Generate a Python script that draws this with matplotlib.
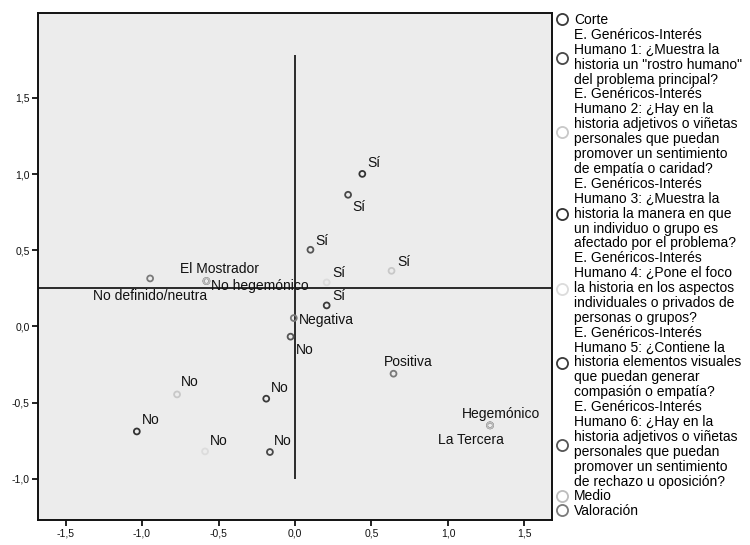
import matplotlib
matplotlib.use("Agg")
import matplotlib.pyplot as plt
from matplotlib.lines import Line2D

plt.rcParams['font.family'] = ['Liberation Sans', 'DejaVu Sans']

# series (legend order)
nombres = [
    'Corte',
    'E. Genéricos-Interés\nHumano 1: ¿Muestra la\nhistoria un "rostro humano"\ndel problema principal?',
    'E. Genéricos-Interés\nHumano 2: ¿Hay en la\nhistoria adjetivos o viñetas\npersonales que puedan\npromover un sentimiento\nde empatía o caridad?',
    'E. Genéricos-Interés\nHumano 3: ¿Muestra la\nhistoria la manera en que\nun individuo o grupo es\nafectado por el problema?',
    'E. Genéricos-Interés\nHumano 4: ¿Pone el foco\nla historia en los aspectos\nindividuales o privados de\npersonas o grupos?',
    'E. Genéricos-Interés\nHumano 5: ¿Contiene la\nhistoria elementos visuales\nque puedan generar\ncompasión o empatía?',
    'E. Genéricos-Interés\nHumano 6: ¿Hay en la\nhistoria adjetivos o viñetas\npersonales que puedan\npromover un sentimiento\nde rechazo u oposición?',
    'Medio',
    'Valoración',
]

corte_x = [1.275, -0.579]
corte_y = [-0.649, 0.298]
corte_lab = ['Hegemónico', 'No hegemónico']

h1_x = [0.347, -0.164]
h1_y = [0.864, -0.824]
h2_x = [0.631, -0.771]
h2_y = [0.365, -0.446]
h3_x = [0.440, -1.034]
h3_y = [1.001, -0.689]
h4_x = [0.207, -0.588]
h4_y = [0.289, -0.820]
h5_x = [0.207, -0.188]
h5_y = [0.138, -0.474]
h6_x = [0.101, -0.029]
h6_y = [0.503, -0.067]
si_no = ['Sí', 'No']

medio_x = [-0.579, 1.275]
medio_y = [0.298, -0.649]
medio_lab = ['El Mostrador', 'La Tercera']

valor_x = [-0.008, 0.644, -0.947]
valor_y = [0.055, -0.310, 0.315]
valor_lab = ['Negativa', 'Positiva', 'No definido/neutra']

x_ticks = [-1.5, -1.0, -0.5, 0.0, 0.5, 1.0, 1.5]
x_tick_lab = ['-1,5', '-1,0', '-0,5', '0,0', '0,5', '1,0', '1,5']
y_ticks = [-1.0, -0.5, 0.0, 0.5, 1.0, 1.5]
y_tick_lab = ['-1,0', '-0,5', '0,0', '0,5', '1,0', '1,5']

series = [
    (corte_x, corte_y, corte_lab),
    (h1_x, h1_y, si_no),
    (h2_x, h2_y, si_no),
    (h3_x, h3_y, si_no),
    (h4_x, h4_y, si_no),
    (h5_x, h5_y, si_no),
    (h6_x, h6_y, si_no),
    (medio_x, medio_y, medio_lab),
    (valor_x, valor_y, valor_lab),
]

# styling
colores = ['#3a3a3a', '#484848', '#c8c8c8', '#333333', '#dcdcdc',
           '#3a3a3a', '#555555', '#bdbdbd', '#7a7a7a']
# label offsets in pixels (dx, dy up, ha)
offs = [
    [(-27.7, 7.7, 'left'), (5, -8.7, 'left')],
    [(4, -16.5, 'left'), (4, 6.7, 'left')],
    [(6, 5, 'left'), (4, 8, 'left')],
    [(5, 7, 'left'), (4.7, 7.7, 'left')],
    [(6, 5.7, 'left'), (4.7, 6.7, 'left')],
    [(6, 5.7, 'left'), (5, 6.7, 'left')],
    [(5, 5, 'left'), (5, -17, 'left')],
    [(-26.7, 8, 'left'), (-52, -18.3, 'left')],
    [(5, -6, 'left'), (-10, 8, 'left'), (0, -21.3, 'center')],
]

fig = plt.figure(figsize=(7.5, 5.45), dpi=100)
ax = fig.add_axes([38 / 750, 1 - 520 / 545, 514 / 750, 507.5 / 545])
ax.set_facecolor('#ececec')

ax.axhline(0.25, color='#2a2a2a', lw=1.4, zorder=1)
ax.vlines(0, -1.0, 1.78, color='#2a2a2a', lw=1.4, zorder=1)

px2pt = 0.72
for (xs, ys, labs), c, off in zip(series, colores, offs):
    ax.scatter(xs, ys, s=18, facecolors='none', edgecolors=c, linewidths=1.3, zorder=3)
    for x, y, t, (dx, dy, ha) in zip(xs, ys, labs, off):
        ax.annotate(t, (x, y), xytext=(dx * px2pt, dy * px2pt), textcoords='offset points',
                    ha=ha, va='baseline', fontsize=10, color='#111111', zorder=4)

ax.set_xlim(-1.68, 1.68)
ax.set_ylim(-1.27, 2.06)
ax.set_xticks(x_ticks)
ax.set_xticklabels(x_tick_lab)
ax.set_yticks(y_ticks)
ax.set_yticklabels(y_tick_lab)
ax.tick_params(direction='out', length=4, width=1.3, labelsize=7.5, colors='#111111', pad=2)
for sp in ax.spines.values():
    sp.set_linewidth(1.4)
    sp.set_color('#111111')

handles = [Line2D([], [], ls='none', marker='o', markersize=8, mfc='none', mec=c, mew=1.3)
           for c in colores]
leg = ax.legend(handles, nombres, loc='upper left', bbox_to_anchor=(1.006, 1.0),
                frameon=False, fontsize=10, borderaxespad=0.0, borderpad=0.05,
                handlelength=0.95, handletextpad=0.35, labelspacing=0.05)
for t in leg.get_texts():
    t.set_linespacing(1.085)

fig.savefig('out.png', dpi=100)
